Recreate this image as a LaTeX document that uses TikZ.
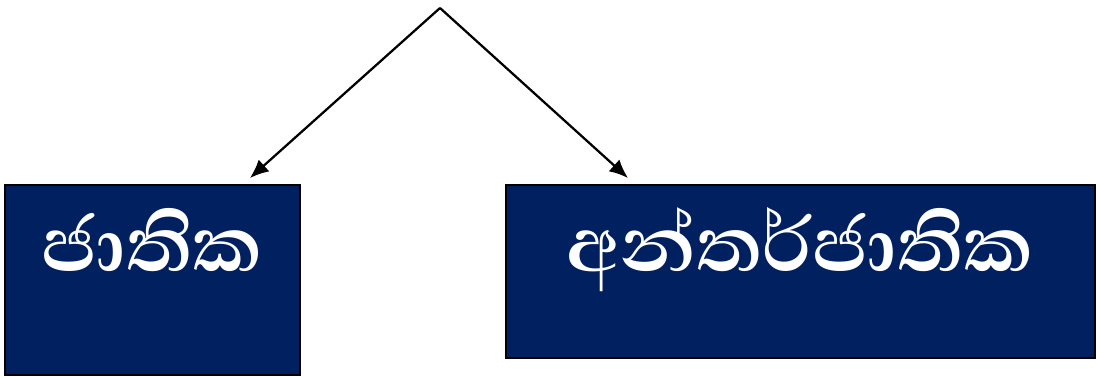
\documentclass[tikz,border=0pt]{standalone}
\usepackage{fontspec}
\newfontfamily\sinhalafont[Script=Sinhala]{Abhaya Libre SemiBold}
\usetikzlibrary{arrows.meta}
\definecolor{navy}{HTML}{002060}
\tikzset{
  box/.style={draw=black, line width=1.2pt, fill=navy, inner sep=0pt, outer sep=0pt},
  lbl/.style={text=white, font=\sinhalafont\fontsize{74}{80}\selectfont, inner sep=0pt, anchor=base},
  arr/.style={line width=1.7pt, -{Latex[length=14pt,width=12pt]}}
}
\begin{document}
\begin{tikzpicture}[x=0.75pt, y=-0.75pt]
\useasboundingbox (0,0) rectangle (1097,376);
\draw[box] (5,185) rectangle (300,375);
\draw[box] (506,185) rectangle (1095,358);
\node[lbl] (national) at (152,271) {ජාතික};
\node[lbl] (international) at (800,271) {අන්තර්ජාතික};
\coordinate (apex) at (440,8);
\coordinate (tipL) at (250,178);
\coordinate (tipR) at (628,178);
\draw[arr] (apex) -- (tipL);
\draw[arr] (apex) -- (tipR);
\end{tikzpicture}
\end{document}
